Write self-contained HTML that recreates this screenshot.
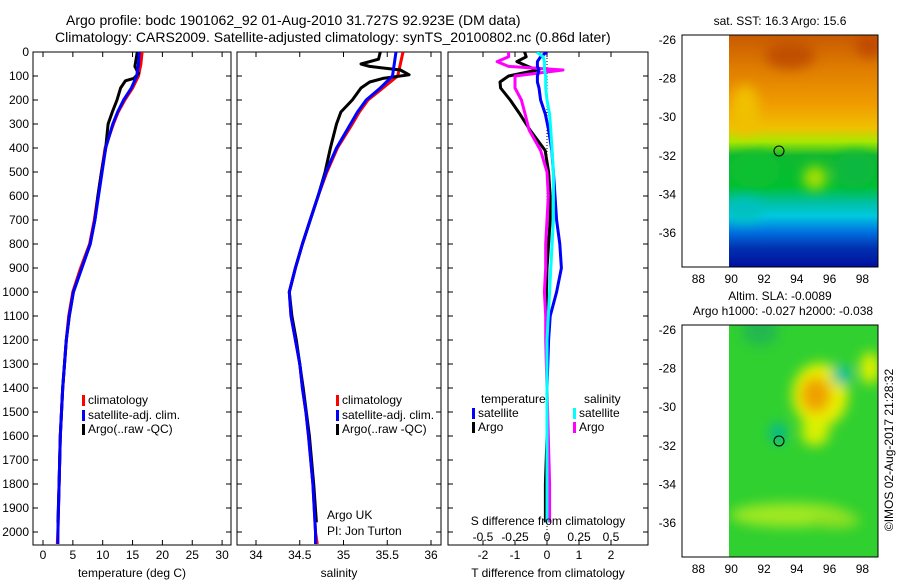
<!DOCTYPE html>
<html><head><meta charset="utf-8"><style>
body{margin:0;background:#fff}
svg{display:block;font-family:"Liberation Sans",sans-serif;font-size:12px}
</style></head><body>
<svg id="s" width="900" height="580" xmlns="http://www.w3.org/2000/svg">
<defs>
<filter id="bl" x="-50%" y="-50%" width="200%" height="200%"><feGaussianBlur stdDeviation="6"/></filter>
<clipPath id="c1"><rect x="729" y="35" width="149" height="232"/></clipPath>
<clipPath id="c2"><rect x="729" y="325" width="149" height="232"/></clipPath>
<clipPath id="p1"><rect x="33" y="52" width="198" height="493"/></clipPath>
<clipPath id="p2"><rect x="237" y="52" width="204" height="493"/></clipPath>
<clipPath id="p3"><rect x="448" y="52" width="200" height="493"/></clipPath>
<linearGradient id="sst" x1="0" y1="0" x2="0" y2="1">
<stop offset="0" stop-color="#c85a00"/><stop offset="0.15" stop-color="#e07e00"/><stop offset="0.3" stop-color="#f09c00"/>
<stop offset="0.4" stop-color="#f0c000"/><stop offset="0.46" stop-color="#a8e800"/><stop offset="0.52" stop-color="#10b830"/>
<stop offset="0.65" stop-color="#00c030"/><stop offset="0.72" stop-color="#00c0a0"/><stop offset="0.78" stop-color="#00c8e0"/>
<stop offset="0.85" stop-color="#0070e0"/><stop offset="0.92" stop-color="#0030b0"/><stop offset="1" stop-color="#0010a0"/>
</linearGradient>
</defs>
<text x="66" y="25" font-size="14">Argo profile: bodc 1901062_92 01-Aug-2010 31.727S 92.923E (DM data)</text>
<text x="55" y="42" font-size="14">Climatology: CARS2009. Satellite-adjusted climatology: synTS_20100802.nc (0.86d later)</text>
<g id="g"></g>
<g>
<rect x="682" y="35" width="196" height="232" fill="#fff" stroke="#000"/>
<g clip-path="url(#c1)">
<rect x="729" y="35" width="149" height="232" fill="url(#sst)"/>
<g filter="url(#bl)">
<ellipse cx="755" cy="170" rx="25" ry="18" fill="#10c030"/>
<ellipse cx="815" cy="178" rx="12" ry="12" fill="#a8e000"/>
<ellipse cx="855" cy="170" rx="20" ry="18" fill="#10b840"/>
<ellipse cx="745" cy="110" rx="14" ry="25" fill="#f0c000"/>
<ellipse cx="790" cy="55" rx="25" ry="14" fill="#c05000"/>
<ellipse cx="870" cy="45" rx="14" ry="12" fill="#c04a00"/>
<ellipse cx="745" cy="210" rx="18" ry="12" fill="#00c0c0"/>
</g>
</g>
<rect x="682" y="35" width="196" height="232" fill="none" stroke="#000"/>
<circle cx="779" cy="151" r="5" fill="none" stroke="#000"/>
<text x="780" y="25" text-anchor="middle">sat. SST: 16.3 Argo: 15.6</text>
</g>
<g>
<rect x="682" y="325" width="196" height="232" fill="#fff" stroke="#000"/>
<g clip-path="url(#c2)">
<rect x="729" y="325" width="149" height="232" fill="#30d030"/>
<g filter="url(#bl)">
<ellipse cx="820" cy="395" rx="28" ry="32" fill="#e8f000"/>
<ellipse cx="816" cy="395" rx="15" ry="18" fill="#f0a000"/>
<ellipse cx="842" cy="375" rx="10" ry="10" fill="#00c0a0"/>
<ellipse cx="778" cy="433" rx="8" ry="10" fill="#00b898"/>
<ellipse cx="870" cy="368" rx="10" ry="16" fill="#e0f000"/>
<ellipse cx="815" cy="432" rx="14" ry="14" fill="#d8f000"/>
<ellipse cx="790" cy="515" rx="60" ry="12" fill="#a0e820"/>
<ellipse cx="835" cy="520" rx="25" ry="8" fill="#90e020"/>
<ellipse cx="760" cy="330" rx="18" ry="16" fill="#20b850"/>
</g>
</g>
<rect x="682" y="325" width="196" height="232" fill="none" stroke="#000"/>
<circle cx="779" cy="441" r="5" fill="none" stroke="#000"/>
<text x="780" y="300" text-anchor="middle">Altim. SLA: -0.0089</text>
<text x="783" y="315" text-anchor="middle">Argo h1000: -0.027 h2000: -0.038</text>
</g>
<text transform="translate(893,450) rotate(-90)" text-anchor="middle">©IMOS 02-Aug-2017 21:28:32</text>
</svg>
<script>
const depthTicks=[0,100,200,300,400,500,600,700,800,900,1000,1100,1200,1300,1400,1500,1600,1700,1800,1900,2000];
const tDepth=[0,50,100,150,200,250,300,400,500,600,700,800,900,1000,1100,1200,1300,1400,1500,1600,1800,2000,2050];
const tClim=[16.6,16.4,16.0,15.0,13.7,12.6,11.8,10.4,9.8,9.2,8.6,7.8,6.3,5.0,4.3,3.9,3.6,3.3,3.1,2.9,2.7,2.5,2.4];
const tSat=[16.1,16.0,15.7,14.8,13.5,12.5,11.7,10.5,9.9,9.3,8.7,7.9,6.5,5.1,4.4,3.9,3.6,3.3,3.1,2.9,2.7,2.5,2.5];
const aDepth=[0,30,60,90,110,120,150,200,250,300,400,500,600,700,800,900,1000,1100,1200,1300,1400,1600,1800,1960];
const tArgo=[15.8,15.6,15.4,16.0,15.2,13.8,13.0,12.4,11.6,10.9,10.5,9.8,9.2,8.7,7.9,6.5,5.1,4.4,3.9,3.6,3.3,2.9,2.7,2.5];
const sDepth=[0,100,150,200,250,300,400,500,600,700,800,900,1000,1100,1200,1300,1400,1500,1600,1800,2000,2050];
const sClim=[35.68,35.62,35.45,35.28,35.18,35.1,34.93,34.81,34.71,34.62,34.53,34.45,34.38,34.4,34.45,34.5,34.53,34.57,34.6,34.65,34.68,34.7];
const sSat=[35.6,35.56,35.42,35.26,35.16,35.08,34.92,34.8,34.71,34.62,34.53,34.45,34.38,34.4,34.45,34.5,34.53,34.57,34.6,34.65,34.68,34.68];
const saDepth=[0,30,50,60,75,95,110,125,150,200,250,300,400,500,600,700,800,900,1000,1100,1200,1400,1600,1800,1960];
const sArgo=[35.42,35.4,35.2,35.3,35.65,35.75,35.45,35.3,35.2,35.1,34.97,34.92,34.85,34.79,34.71,34.62,34.53,34.45,34.38,34.41,34.46,34.54,34.61,34.66,34.69];
const dDepth=[0,20,40,60,75,100,125,150,200,260,325,410,500,600,700,800,900,1000,1100,1200,1400,1600,1800,1960];
const dtArgo=[-0.7,-0.65,-0.94,-0.6,-0.3,-1.2,-1.47,-1.45,-1.15,-0.84,-0.53,-0.06,0.05,0.1,0.1,0.05,0.0,-0.02,0.0,0.0,0.0,0.0,-0.05,-0.05];
const dtSat=[0.0,-0.2,-0.3,-0.3,-0.25,-0.3,-0.3,-0.25,-0.2,-0.05,0.05,0.15,0.2,0.25,0.3,0.4,0.45,0.3,0.1,0.05,0.0,0.0,0.0,0.0];
const dsArgo=[-0.3,-0.3,-0.39,-0.3,0.125,-0.25,-0.25,-0.25,-0.2,-0.17,-0.14,-0.05,0.0,0.01,0.0,-0.01,-0.01,-0.02,-0.01,-0.01,0.0,0.01,0.02,0.02];
const dsSat=[-0.08,-0.03,-0.02,-0.02,-0.02,-0.01,-0.01,-0.01,0.0,0.02,0.03,0.04,0.05,0.05,0.05,0.04,0.03,0.02,0.01,0.0,0.0,0.0,0.0,0.0];
const tTicks=[0,5,10,15,20,25,30];
const sTicks=[34,34.5,35,35.5,36];
const dtTicks=[-2,-1,0,1,2];
const dsTicks=[-0.5,-0.25,0,0.25,0.5];
const dsTickLabels=["-0.5","-0.25","0","0.25","0.5"];
const yD=d=>52+d*0.24;
const xT=v=>43+v*5.97;
const xS=v=>256+(v-34)*87.5;
const xDT=v=>547+v*32;
const xDS=v=>547+v*128;
const NS='http://www.w3.org/2000/svg';
const G=document.getElementById('g');
function mk(t,a,p){const e=document.createElementNS(NS,t);for(const k in a)e.setAttribute(k,a[k]);(p||G).appendChild(e);return e;}
function panel(x0,x1,name){
  const f=mk('rect',{x:x0,y:52,width:x1-x0,height:493,fill:'none',stroke:'#000'});
  
  
  depthTicks.forEach(d=>{mk('line',{x1:x0,x2:x0+5,y1:yD(d),y2:yD(d),stroke:'#000'});mk('line',{x1:x1-5,x2:x1,y1:yD(d),y2:yD(d),stroke:'#000'});});
}
function xticks(ticks,labels,sc,y,name){
  ticks.forEach((t,i)=>{
    mk('line',{x1:sc(t),x2:sc(t),y1:52,y2:57,stroke:'#000'});
    mk('line',{x1:sc(t),x2:sc(t),y1:540,y2:545,stroke:'#000'});
    const e=mk('text',{x:sc(t),y:y,'text-anchor':'middle'});e.textContent=labels[i];
    
    
  });
}
function line(xs,ds,sc,col,w,clip,name){
  const pts=xs.map((v,i)=>sc(v).toFixed(1)+','+yD(ds[i]).toFixed(1)).join(' ');
  const e=mk('polyline',{points:pts,fill:'none',stroke:col,'stroke-width':w,'clip-path':'url(#'+clip+')','stroke-linejoin':'round'});
  
  
}
function txt(x,y,s,name,anchor){const e=mk('text',{x:x,y:y,'text-anchor':anchor||'start'});e.textContent=s;
  
  return e;}
function leg(x,y,col,s,name){mk('rect',{x:x,y:y-9,width:3,height:11,fill:col});txt(x+6,y,s,name);}
depthTicks.forEach(d=>txt(29,yD(d)+4,String(d),'depth-tick-label','end'));
panel(33,231,'temperature-panel');
xticks(tTicks,tTicks.map(String),xT,559,'temperature-tick-label');
line(tClim,tDepth,xT,'#f00',3,'p1','temperature-climatology-line');
line(tArgo,aDepth,xT,'#000',3,'p1','temperature-argo-line');
line(tSat,tDepth,xT,'#00f',3,'p1','temperature-satellite-line');
txt(132,577,'temperature (deg C)','temperature-axis-title','middle');
leg(82,404,'#f00','climatology','legend-climatology');
leg(82,419,'#00f','satellite-adj. clim.','legend-satellite');
leg(82,433,'#000','Argo(..raw -QC)','legend-argo');
panel(237,441,'salinity-panel');
xticks(sTicks,['34','34.5','35','35.5','36'],xS,559,'salinity-tick-label');
line(sClim,sDepth,xS,'#f00',3,'p2','salinity-climatology-line');
line(sArgo,saDepth,xS,'#000',3,'p2','salinity-argo-line');
line(sSat,sDepth,xS,'#00f',3,'p2','salinity-satellite-line');
txt(339,577,'salinity','salinity-axis-title','middle');
leg(336,404,'#f00','climatology','legend-climatology');
leg(336,419,'#00f','satellite-adj. clim.','legend-satellite');
leg(336,433,'#000','Argo(..raw -QC)','legend-argo');
txt(327,519,'Argo UK','argo-uk-credit');
txt(327,535,'PI: Jon Turton','pi-credit');
panel(448,648,'difference-panel');
xticks(dtTicks,dtTicks.map(String),xDT,559,'t-diff-tick-label');
mk('line',{x1:547,x2:547,y1:52,y2:545,stroke:'#000','stroke-dasharray':'1,2'});
line(dtArgo,dDepth,xDT,'#000',3,'p3','t-diff-argo-line');
line(dsArgo,dDepth,xDS,'#f0f',3,'p3','s-diff-argo-line');
line(dtSat,dDepth,xDT,'#00f',3,'p3','t-diff-satellite-line');
line(dsSat,dDepth,xDS,'#0ff',3,'p3','s-diff-satellite-line');
dsTicks.forEach((t,i)=>txt(xDS(t),541,dsTickLabels[i],'s-diff-tick-label','middle'));
txt(548,525,'S difference from climatology','s-diff-axis-title','middle');
txt(548,577,'T difference from climatology','t-diff-axis-title','middle');
txt(481,403,'temperature','legend-temperature-header');
txt(584,403,'salinity','legend-salinity-header');
leg(472,417,'#00f','satellite','legend-t-satellite');
leg(472,431,'#000','Argo','legend-t-argo');
leg(573,417,'#0ff','satellite','legend-s-satellite');
leg(573,431,'#f0f','Argo','legend-s-argo');
const mapLon=[88,90,92,94,96,98];
const mapLat=[-26,-28,-30,-32,-34,-36];
const lx=l=>682+(l-87)*16.4;
[[35,267,40],[325,557,330]].forEach(([t,b,y0])=>{
  mapLon.forEach(l=>{mk('line',{x1:lx(l),x2:lx(l),y1:t,y2:t+4,stroke:'#000'});mk('line',{x1:lx(l),x2:lx(l),y1:b-4,y2:b,stroke:'#000'});txt(lx(l),b+16,String(l),'map-lon-label','middle');});
  mapLat.forEach(l=>{const y=y0+(-26-l)*19.3;mk('line',{x1:682,x2:686,y1:y,y2:y,stroke:'#000'});mk('line',{x1:874,x2:878,y1:y,y2:y,stroke:'#000'});txt(676,y+4,String(l),'map-lat-label','end');});
});
</script>
</body></html>
